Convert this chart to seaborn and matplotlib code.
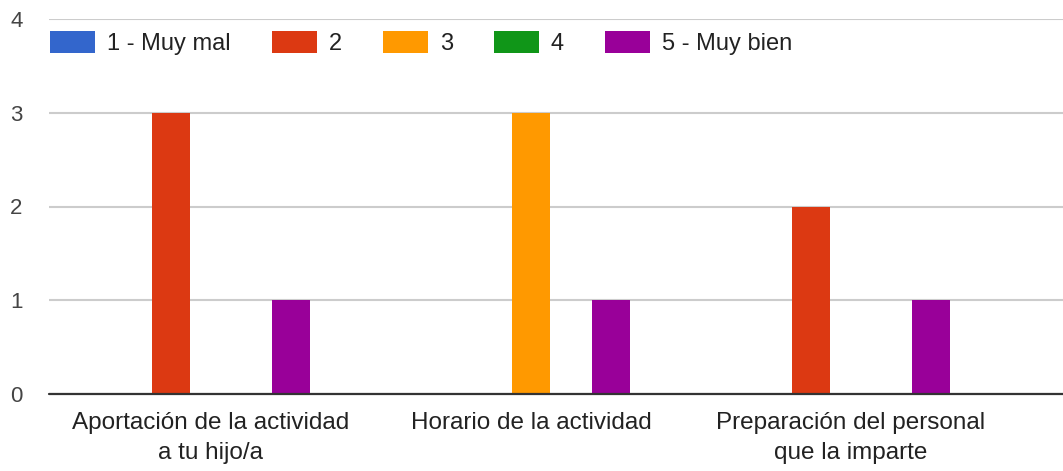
import numpy as np, pandas as pd
import matplotlib
matplotlib.use("Agg")
import matplotlib.pyplot as plt
import seaborn as sns

# datos de la encuesta
categorias = ["Aportación de la actividad\na tu hijo/a",
              "Horario de la actividad",
              "Preparación del personal\nque la imparte"]
respuestas = ["1 - Muy mal", "2", "3", "4", "5 - Muy bien"]
muy_mal = [0, 0, 0]
dos = [3, 0, 2]
tres = [0, 3, 0]
cuatro = [0, 0, 0]
muy_bien = [1, 1, 1]
colores = ["#3366CC", "#DC3912", "#FF9900", "#109618", "#990099"]

valores = [muy_mal, dos, tres, cuatro, muy_bien]
filas = []
for r, vals in zip(respuestas, valores):
    for c, v in zip(categorias, vals):
        filas.append({"categoria": c, "respuesta": r, "valor": v})
df = pd.DataFrame(filas)

sns.set_style("white")
plt.rcParams['font.family'] = ['Liberation Sans', 'DejaVu Sans']

fig = plt.figure(figsize=(10.63, 4.71), dpi=100)
ax = fig.add_axes([49 / 1063, 77 / 471, 1 - 49 / 1063, (394 - 19) / 471])

sns.barplot(data=df, x="categoria", y="valor", hue="respuesta",
            hue_order=respuestas, order=categorias, palette=colores,
            width=0.625, gap=0.06, linewidth=0, saturation=1, ax=ax,
            legend=True)

ax.set_xlim((49 - 211) / 320, (1063 - 211) / 320)
ax.set_ylim(0, 4)
ax.set_yticks([0, 1, 2, 3, 4])
ax.yaxis.grid(True, color="#cccccc", linewidth=1.5)
ax.set_axisbelow(True)
for s in ax.spines.values():
    s.set_visible(False)
ax.axhline(0, color="#333333", linewidth=1.6, clip_on=False, zorder=5)

ax.set_xlabel("")
ax.set_ylabel("")
ax.tick_params(axis="y", length=0, pad=19, labelsize=16, labelcolor="#444444")
ax.tick_params(axis="x", length=0, pad=13, labelsize=17.5, labelcolor="#222222")
for t in ax.get_xticklabels():
    t.set_linespacing(1.47)
    t.set_multialignment("center")

ax.get_legend().remove()
handles, labels = ax.get_legend_handles_labels()
fig.legend(handles, labels, ncol=5, loc="center left",
           bbox_to_anchor=(50 / 1063, 1 - 43 / 471), frameon=False,
           fontsize=17, handlelength=1.92, handleheight=1.1,
           handletextpad=0.5, columnspacing=1.73, borderpad=0,
           borderaxespad=0, labelcolor="#222222")

fig.savefig("out.png", dpi=100)
